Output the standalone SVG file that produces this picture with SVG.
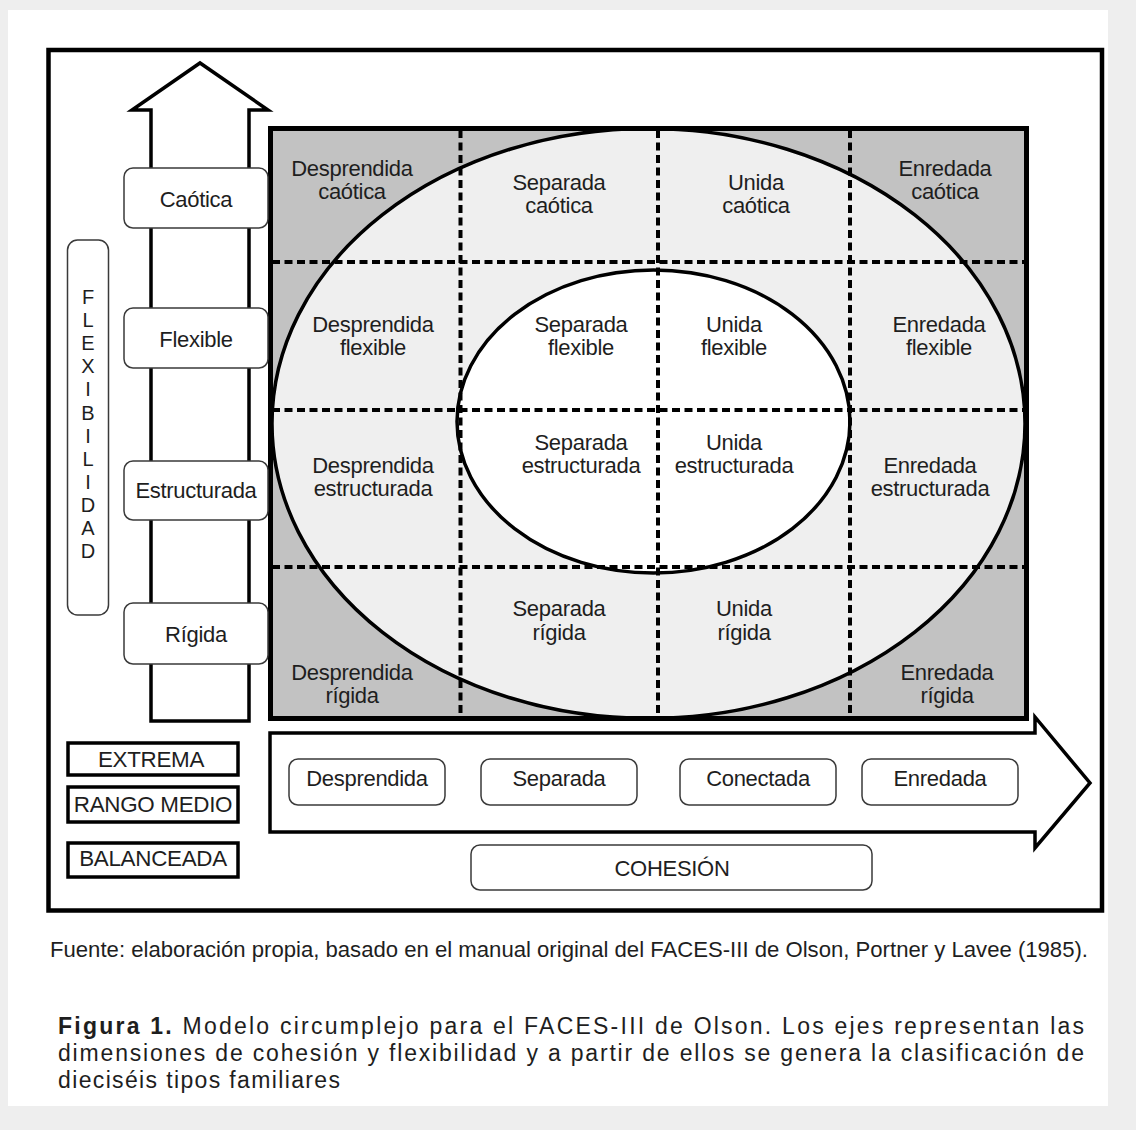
<svg xmlns="http://www.w3.org/2000/svg" width="1136" height="1130" viewBox="0 0 1136 1130">
<defs>
<style>
text { font-family: "Liberation Sans", Arial, sans-serif; fill: #1e1e1e; }
.c { font-size: 22px; text-anchor: middle; letter-spacing: -0.3px; }
.ax { font-size: 22px; text-anchor: middle; letter-spacing: -0.3px; }
.lg { font-size: 22.4px; text-anchor: middle; letter-spacing: -0.3px; }
.fl { font-size: 20px; text-anchor: middle; }
.src { font-size: 21.5px; }
.cap { font-size: 23px; }
.lbl { fill: #fff; stroke: #3a3a3a; stroke-width: 1.5; }
.leg { fill: #fff; stroke: #000; stroke-width: 3.5; }
.dash { stroke: #000; stroke-width: 4; stroke-dasharray: 8 4.5; fill: none; }
.arrow { fill: #fff; stroke: #000; stroke-width: 3.5; stroke-linejoin: miter; }
</style>
<clipPath id="gridclip"><rect x="270.5" y="128.5" width="756" height="590"/></clipPath>
</defs>

<rect x="0" y="0" width="1136" height="1130" fill="#eeeeee"/>
<rect x="8" y="10" width="1100" height="1096" fill="#ffffff"/>
<rect x="48.5" y="50" width="1053.5" height="860.5" fill="none" stroke="#000" stroke-width="4.5"/>

<g id="axis-flexibilidad">
  <path class="arrow" d="M151,721 V110 H132 L200,63 L268,110 H249 V721 Z"/>
</g>
<g id="axis-cohesion">
  <path class="arrow" d="M270,733 H1035 V717 L1090,783 L1035,848 V832 H270 Z"/>
</g>

<g id="grid">
  <g clip-path="url(#gridclip)">
    <rect x="270.5" y="128.5" width="756" height="590" fill="#c2c2c2"/>
    <ellipse cx="648.5" cy="423.5" rx="376.5" ry="295" fill="#efefef" stroke="#000" stroke-width="3.5"/>
    <ellipse cx="653.5" cy="421.5" rx="196.5" ry="151.5" fill="#ffffff" stroke="#000" stroke-width="3.5"/>
  </g>
  <g id="grid-lines">
    <line class="dash" x1="460.5" y1="130" x2="460.5" y2="717"/>
    <line class="dash" x1="658" y1="130" x2="658" y2="717"/>
    <line class="dash" x1="850" y1="130" x2="850" y2="717"/>
    <line class="dash" x1="272" y1="262" x2="1025" y2="262"/>
    <line class="dash" x1="272" y1="410" x2="1025" y2="410"/>
    <line class="dash" x1="272" y1="567" x2="1025" y2="567"/>
  </g>
  <rect x="270.5" y="128.5" width="756" height="590" fill="none" stroke="#000" stroke-width="5"/>
</g>

<g id="cell-desprendida-caotica"><text class="c" x="352" y="176">Desprendida</text><text class="c" x="352" y="199">caótica</text></g>
<g id="cell-separada-caotica"><text class="c" x="559" y="190">Separada</text><text class="c" x="559" y="213">caótica</text></g>
<g id="cell-unida-caotica"><text class="c" x="756" y="190">Unida</text><text class="c" x="756" y="213">caótica</text></g>
<g id="cell-enredada-caotica"><text class="c" x="945" y="176">Enredada</text><text class="c" x="945" y="199">caótica</text></g>

<g id="cell-desprendida-flexible"><text class="c" x="373" y="332">Desprendida</text><text class="c" x="373" y="355">flexible</text></g>
<g id="cell-separada-flexible"><text class="c" x="581" y="332">Separada</text><text class="c" x="581" y="355">flexible</text></g>
<g id="cell-unida-flexible"><text class="c" x="734" y="332">Unida</text><text class="c" x="734" y="355">flexible</text></g>
<g id="cell-enredada-flexible"><text class="c" x="939" y="332">Enredada</text><text class="c" x="939" y="355">flexible</text></g>

<g id="cell-desprendida-estructurada"><text class="c" x="373" y="473">Desprendida</text><text class="c" x="373" y="496">estructurada</text></g>
<g id="cell-separada-estructurada"><text class="c" x="581" y="450">Separada</text><text class="c" x="581" y="473">estructurada</text></g>
<g id="cell-unida-estructurada"><text class="c" x="734" y="450">Unida</text><text class="c" x="734" y="473">estructurada</text></g>
<g id="cell-enredada-estructurada"><text class="c" x="930" y="473">Enredada</text><text class="c" x="930" y="496">estructurada</text></g>

<g id="cell-separada-rigida"><text class="c" x="559" y="616">Separada</text><text class="c" x="559" y="640">rígida</text></g>
<g id="cell-unida-rigida"><text class="c" x="744" y="616">Unida</text><text class="c" x="744" y="640">rígida</text></g>
<g id="cell-desprendida-rigida"><text class="c" x="352" y="680">Desprendida</text><text class="c" x="352" y="703">rígida</text></g>
<g id="cell-enredada-rigida"><text class="c" x="947" y="680">Enredada</text><text class="c" x="947" y="703">rígida</text></g>

<g id="label-caotica"><rect class="lbl" x="124" y="168" width="144" height="60" rx="9"/><text class="ax" x="196" y="207">Caótica</text></g>
<g id="label-flexible"><rect class="lbl" x="124" y="308" width="144" height="60" rx="9"/><text class="ax" x="196" y="347">Flexible</text></g>
<g id="label-estructurada"><rect class="lbl" x="124" y="461" width="144" height="59" rx="9"/><text class="ax" x="196" y="498">Estructurada</text></g>
<g id="label-rigida"><rect class="lbl" x="124" y="603" width="144" height="61" rx="9"/><text class="ax" x="196" y="642">Rígida</text></g>

<g id="label-flexibilidad">
  <rect class="lbl" x="67.5" y="240" width="41" height="375" rx="10"/>
  <text class="fl" x="88" y="304">F</text>
  <text class="fl" x="88" y="327">L</text>
  <text class="fl" x="88" y="350">E</text>
  <text class="fl" x="88" y="373">X</text>
  <text class="fl" x="88" y="396">I</text>
  <text class="fl" x="88" y="420">B</text>
  <text class="fl" x="88" y="443">I</text>
  <text class="fl" x="88" y="466">L</text>
  <text class="fl" x="88" y="489">I</text>
  <text class="fl" x="88" y="512">D</text>
  <text class="fl" x="88" y="535">A</text>
  <text class="fl" x="88" y="558">D</text>
</g>

<g id="label-desprendida"><rect class="lbl" x="289" y="759" width="156" height="46" rx="9"/><text class="ax" x="367" y="786">Desprendida</text></g>
<g id="label-separada"><rect class="lbl" x="481" y="759" width="156" height="46" rx="9"/><text class="ax" x="559" y="786">Separada</text></g>
<g id="label-conectada"><rect class="lbl" x="680" y="759" width="156" height="46" rx="9"/><text class="ax" x="758" y="786">Conectada</text></g>
<g id="label-enredada"><rect class="lbl" x="862" y="759" width="156" height="46" rx="9"/><text class="ax" x="940" y="786">Enredada</text></g>
<g id="label-cohesion"><rect class="lbl" x="471" y="845" width="401" height="45" rx="9"/><text class="ax" x="672" y="876">COHESIÓN</text></g>

<g id="legend-extrema"><rect class="leg" x="68" y="743" width="170" height="32"/><text class="lg" x="151" y="767">EXTREMA</text></g>
<g id="legend-rango-medio"><rect class="leg" x="68" y="787" width="170" height="35"/><text class="lg" x="153" y="812">RANGO MEDIO</text></g>
<g id="legend-balanceada"><rect class="leg" x="68" y="843" width="170" height="34"/><text class="lg" x="153" y="866">BALANCEADA</text></g>

<g id="source">
  <text class="src" x="50" y="957" textLength="1038" lengthAdjust="spacingAndGlyphs">Fuente: elaboración propia, basado en el manual original del FACES-III de Olson, Portner y Lavee (1985).</text>
</g>
<g id="caption">
  <text class="cap" x="58" y="1034" textLength="1026" lengthAdjust="spacing"><tspan font-weight="bold">Figura 1.</tspan> Modelo circumplejo para el FACES-III de Olson. Los ejes representan las</text>
  <text class="cap" x="58" y="1061" textLength="1026" lengthAdjust="spacing">dimensiones de cohesión y flexibilidad y a partir de ellos se genera la clasificación de</text>
  <text class="cap" x="58" y="1088" textLength="282" lengthAdjust="spacing">dieciséis tipos familiares</text>
</g>
</svg>
